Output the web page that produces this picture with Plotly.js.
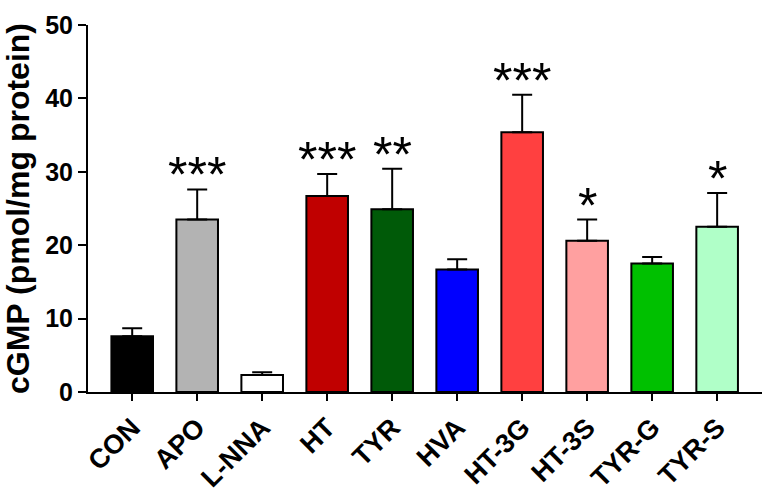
<!DOCTYPE html>
<html><head><meta charset="utf-8">
<script src="https://cdn.plot.ly/plotly-3.0.1.min.js"></script>
<style>html,body{margin:0;padding:0;background:#fff}</style>
</head><body>
<div id="chart" style="width:770px;height:497px"></div>
<script>
const categories = ["CON","APO","L-NNA","HT","TYR","HVA","HT-3G","HT-3S","TYR-G","TYR-S"];
const values = [7.6, 23.5, 2.3, 26.7, 24.9, 16.7, 35.4, 20.6, 17.5, 22.5];
const errors = [1.1, 4.1, 0.4, 3.0, 5.5, 1.4, 5.1, 2.9, 0.9, 4.6];
const colors = ["#000000","#b3b3b3","#ffffff","#c00000","#005a08","#0000ff","#ff4040","#ffa0a0","#00c000","#b0ffc8"];
const stars = ["","***","","***","**","","***","*","","*"];

const F = "Liberation Sans, Arial, sans-serif";
const trace = {
  type: "bar", x: categories, y: values, width: 0.64,
  marker: {color: colors, line: {color: "#000", width: 2}},
  error_y: {type: "data", symmetric: false, array: errors, arrayminus: errors.map(()=>0),
            color: "#000", thickness: 2, width: 10},
  hoverinfo: "none"
};
const annotations = categories.map((c,i)=>({
  x: c, y: values[i]+errors[i], xref: "x", yref: "y", text: stars[i],
  showarrow: false, yanchor: "bottom", yshift: -16,
  font: {family: F, size: 50, color: "#000"}
})).filter((a,i)=>stars[i]);

const layout = {
  width: 770, height: 497,
  margin: {l: 88, r: 8, t: 25, b: 105},
  paper_bgcolor: "#fff", plot_bgcolor: "#fff",
  showlegend: false,
  xaxis: {range: [-0.68, 9.69], showgrid: false, zeroline: false, showline: true,
          linecolor: "#000", linewidth: 2, ticks: "outside", ticklen: 7, tickwidth: 2, tickcolor: "#000",
          tickangle: -45, tickfont: {family: F, size: 27, color: "#000", weight: "bold"}},
  yaxis: {range: [0, 50], tickvals: [0,10,20,30,40,50], showgrid: false, zeroline: false, showline: true,
          linecolor: "#000", linewidth: 2, ticks: "outside", ticklen: 8, tickwidth: 2, tickcolor: "#000",
          tickfont: {family: F, size: 25, color: "#000", weight: "bold"},
          title: {text: "cGMP (pmol/mg protein)", standoff: 6,
                  font: {family: F, size: 32, color: "#000", weight: "bold"}}},
  annotations: annotations
};
Plotly.newPlot("chart", [trace], layout, {displayModeBar: false, staticPlot: true});
</script>
</body></html>
